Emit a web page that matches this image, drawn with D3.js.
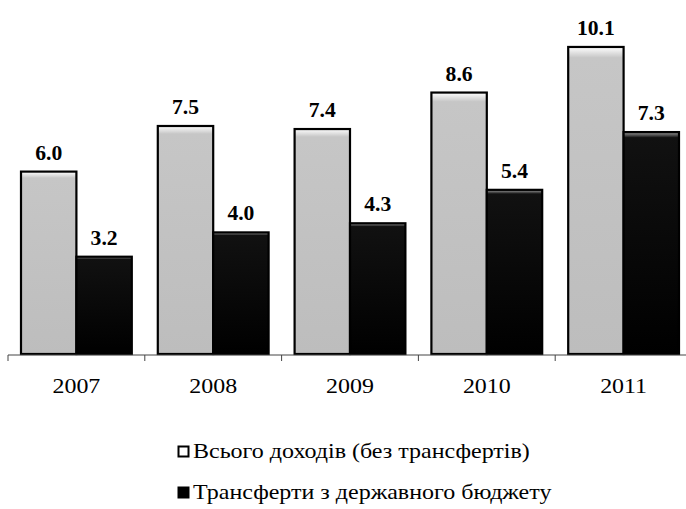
<!DOCTYPE html>
<html><head><meta charset="utf-8">
<script src="https://cdn.jsdelivr.net/npm/d3@7"></script>
<style>body{margin:0;background:#fff}svg{display:block}text{font-family:'Liberation Serif','Times New Roman',serif}</style>
</head><body>
<svg id="c" width="686" height="509"></svg>
<script>
const years = ["2007","2008","2009","2010","2011"];
const incomeValues = [6.0, 7.5, 7.4, 8.6, 10.1];
const transferValues = [3.2, 4.0, 4.3, 5.4, 7.3];
const seriesNames = ["Всього доходів (без трансфертів)", "Трансферти з державного бюджету"];

const svg = d3.select("#c");
const defs = svg.append("defs");
const g1 = defs.append("linearGradient").attr("id","gGrey").attr("x1",0).attr("y1",0).attr("x2",0).attr("y2",1);
g1.append("stop").attr("offset","0").attr("stop-color","#ffffff");
g1.append("stop").attr("offset","0.035").attr("stop-color","#c6c6c6");
g1.append("stop").attr("offset","1").attr("stop-color","#bdbdbd");
const g2 = defs.append("linearGradient").attr("id","gBlack").attr("x1",0).attr("y1",0).attr("x2",0).attr("y2",1);
g2.append("stop").attr("offset","0").attr("stop-color","#a0a0a0");
g2.append("stop").attr("offset","0.025").attr("stop-color","#111");
g2.append("stop").attr("offset","1").attr("stop-color","#000");

const x = d3.scaleBand().domain(years).range([8, 692]).paddingInner(0).paddingOuter(0);
const sub = d3.scaleBand().domain([0,1]).range([13, x.bandwidth()-13]);
const y = d3.scaleLinear().domain([0, 10]).range([354, 50]);

const data = years.map((yr,i)=>({yr, v:[incomeValues[i], transferValues[i]]}));

const grp = svg.selectAll("g.cat").data(data).join("g").attr("class","cat")
  .attr("transform", d=>`translate(${x(d.yr)},0)`);

grp.selectAll("rect").data(d=>d.v.map((v,k)=>({v,k}))).join("rect")
  .attr("x", d=>sub(d.k)).attr("width", sub.bandwidth())
  .attr("y", d=>y(d.v)).attr("height", d=>y(0)-y(d.v))
  .attr("fill", d=>d.k===0?"url(#gGrey)":"url(#gBlack)")
  .attr("stroke","#000").attr("stroke-width",2.2);

grp.selectAll("text.val").data(d=>d.v.map((v,k)=>({v,k}))).join("text").attr("class","val")
  .attr("transform", d=>`translate(${sub(d.k)+sub.bandwidth()/2},${y(d.v)-12}) scale(1.03,1)`)
  .attr("text-anchor","middle")
  .attr("font-weight","bold").attr("font-size",21).attr("fill","#000")
  .text(d=>d.v.toFixed(1));

// axis
svg.append("line").attr("x1",8).attr("x2",686).attr("y1",355).attr("y2",355)
  .attr("stroke","#444").attr("stroke-width",1);
svg.selectAll("line.tick").data(years).join("line").attr("class","tick")
  .attr("x1",d=>x(d)).attr("x2",d=>x(d))
  .attr("y1",355).attr("y2",361).attr("stroke","#444").attr("stroke-width",1);
svg.selectAll("text.yr").data(years).join("text").attr("class","yr")
  .attr("transform", d=>`translate(${x(d)+x.bandwidth()/2},393) scale(1.14,1)`)
  .attr("text-anchor","middle")
  .attr("font-size",21).attr("fill","#000").text(d=>d);

// legend
const leg = svg.selectAll("g.leg").data(seriesNames).join("g").attr("class","leg")
  .attr("transform",(d,i)=>`translate(178,${458+i*41})`);
leg.append("rect").attr("x",0.5).attr("y",-11.5).attr("width",10).attr("height",10)
  .attr("fill",(d,i)=>i===0?"#fff":"#000").attr("stroke","#000").attr("stroke-width",2);
leg.append("text").attr("transform","translate(15,0) scale(1.2,1)")
  .attr("font-size",20).attr("fill","#000")
  .text(d=>d);
</script>
</body></html>
